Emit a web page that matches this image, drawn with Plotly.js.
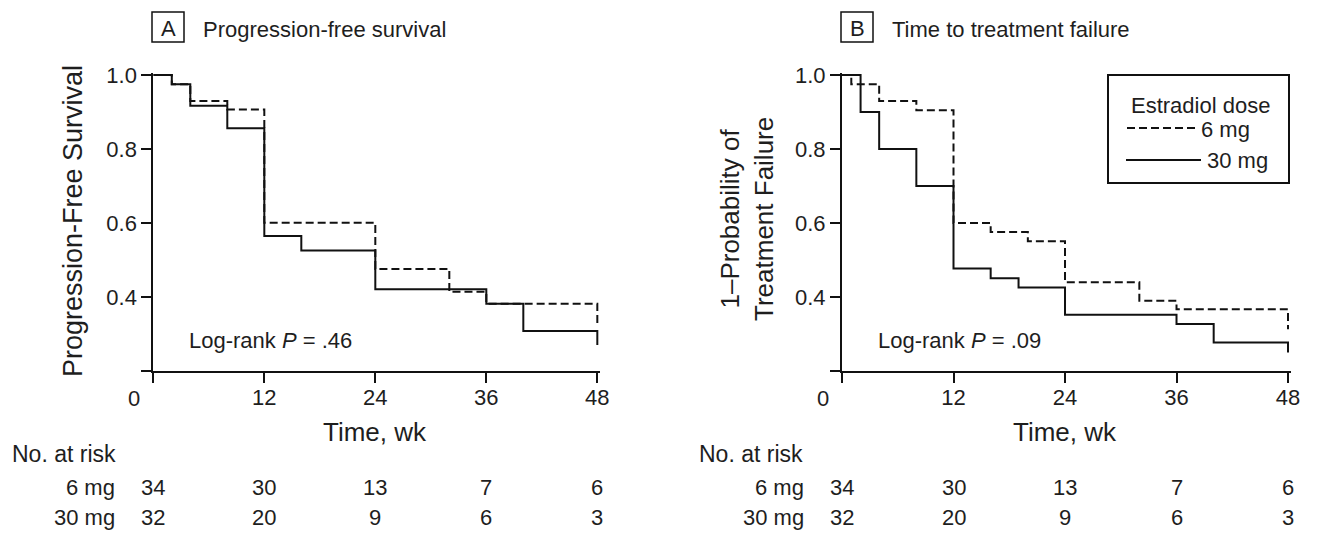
<!DOCTYPE html>
<html>
<head>
<meta charset="utf-8">
<script src="https://cdn.plot.ly/plotly-3.0.1.min.js"></script>
<style>html,body{margin:0;padding:0;background:#fff;}#chart{width:1319px;height:534px;}</style>
</head>
<body>
<div id="chart"></div>
<script>
// ---- Data ----
// Panel A: Progression-free survival
const pfsWeeks6 = [0, 2, 4, 8, 12, 24, 32, 36, 48];
const pfsSurv6  = [1.0, 0.975, 0.93, 0.907, 0.601, 0.476, 0.414, 0.382, 0.32];
const pfsWeeks30 = [0, 2, 4, 8, 12, 16, 24, 36, 40, 48];
const pfsSurv30  = [1.0, 0.975, 0.917, 0.856, 0.565, 0.526, 0.421, 0.382, 0.308, 0.27];
// Panel B: Time to treatment failure
const ttfWeeks6 = [0, 1, 4, 8, 12, 16, 20, 24, 32, 36, 48];
const ttfSurv6  = [1.0, 0.975, 0.93, 0.905, 0.60, 0.576, 0.551, 0.44, 0.39, 0.367, 0.313];
const ttfWeeks30 = [0, 2, 4, 8, 12, 16, 19, 24, 36, 40, 48];
const ttfSurv30  = [1.0, 0.90, 0.80, 0.70, 0.477, 0.451, 0.426, 0.352, 0.327, 0.277, 0.25];
// Number at risk
const riskWeeks = [0, 12, 24, 36, 48];
const risk6  = [34, 30, 13, 7, 6];
const risk30 = [32, 20, 9, 6, 3];
// Tick labels
const xTickVals = [0, 12, 24, 36, 48];
const xTickText = ['', '12', '24', '36', '48'];
const yTickVals = [0.2, 0.4, 0.6, 0.8, 1.0];
const yTickText = ['', '0.4', '0.6', '0.8', '1.0'];
const doseLabels = ['6 mg', '30 mg'];
const panelTitles = ['Progression-free survival', 'Time to treatment failure'];
const pValues = ['.46', '.09'];

// ---- Layout helpers ----
const W = 1319, H = 534;
const FONT = 'Liberation Sans, Arial, Helvetica, sans-serif';
const TXT = '#1e1e1e';
const px = v => v / W;
const py = v => 1 - v / H;

const lineSolid = {color: '#111', width: 2, shape: 'hv'};
const lineDash  = {color: '#111', width: 2, shape: 'hv', dash: '8px,4px'};

const traces = [
  {x: pfsWeeks6,  y: pfsSurv6,  xaxis: 'x',  yaxis: 'y',  mode: 'lines', line: lineDash,  name: doseLabels[0], hoverinfo: 'x+y'},
  {x: pfsWeeks30, y: pfsSurv30, xaxis: 'x',  yaxis: 'y',  mode: 'lines', line: lineSolid, name: doseLabels[1], hoverinfo: 'x+y'},
  {x: ttfWeeks6,  y: ttfSurv6,  xaxis: 'x2', yaxis: 'y2', mode: 'lines', line: lineDash,  name: doseLabels[0], hoverinfo: 'x+y'},
  {x: ttfWeeks30, y: ttfSurv30, xaxis: 'x2', yaxis: 'y2', mode: 'lines', line: lineSolid, name: doseLabels[1], hoverinfo: 'x+y'}
];

const tickFont = {family: FONT, size: 22, color: TXT};
function xAxis(domain, anchor) {
  return {domain: domain, anchor: anchor, range: [0, 48.3], tickvals: xTickVals, ticktext: xTickText,
    showline: true, linecolor: '#111', linewidth: 2, ticks: 'outside', ticklen: 10, tickwidth: 2, tickcolor: '#111',
    ticklabelstandoff: -4,
    showgrid: false, zeroline: false, tickfont: tickFont, fixedrange: true};
}
function yAxis(anchor) {
  return {domain: [py(371), py(73.15)], anchor: anchor, range: [0.2, 1.005], tickvals: yTickVals, ticktext: yTickText,
    showline: true, linecolor: '#111', linewidth: 2, ticks: 'outside', ticklen: 10, tickwidth: 2, tickcolor: '#111',
    showgrid: false, zeroline: false, tickfont: tickFont, fixedrange: true};
}

const annotations = [];
const shapes = [];
const panels = [
  {xr: 'x',  boxL: 152, noRiskL: 10,  rowR: 117, yTitleX: 73,  yTitleY: 221, ySize: 27, yTitle: 'Progression-Free Survival', pX: 187},
  {xr: 'x2', boxL: 841, noRiskL: 697, rowR: 806, yTitleX: 747, yTitleY: 219, ySize: 26, yTitle: '1–Probability of<br>Treatment Failure', pX: 876}
];
const letters = ['A', 'B'];
panels.forEach((p, i) => {
  // panel letter box + title
  shapes.push({type: 'rect', xref: 'paper', yref: 'paper', x0: px(p.boxL), x1: px(p.boxL + 32), y0: py(42), y1: py(12),
    line: {color: '#111', width: 1.5}});
  annotations.push({xref: 'paper', yref: 'paper', x: px(p.boxL + 16), y: py(28), text: letters[i], showarrow: false,
    xanchor: 'center', yanchor: 'middle', font: {family: FONT, size: 22, color: TXT}});
  annotations.push({xref: 'paper', yref: 'paper', x: px(p.boxL + 49), y: py(29), text: panelTitles[i], showarrow: false,
    xanchor: 'left', yanchor: 'middle', font: {family: FONT, size: 22, color: TXT}});
  // y axis title
  annotations.push({xref: 'paper', yref: 'paper', x: px(p.yTitleX), y: py(p.yTitleY), text: p.yTitle, textangle: -90, showarrow: false,
    xanchor: 'center', yanchor: 'middle', font: {family: FONT, size: p.ySize, color: TXT}});
  // x axis title
  annotations.push({xref: p.xr, yref: 'paper', x: 24, y: py(432), text: 'Time, wk', showarrow: false,
    xanchor: 'center', yanchor: 'middle', font: {family: FONT, size: 26, color: TXT}});
  // origin label "0"
  annotations.push({xref: p.xr, yref: 'paper', x: 0, xshift: -19, y: py(398), text: '0', showarrow: false,
    xanchor: 'center', yanchor: 'middle', font: tickFont});
  // log-rank p
  annotations.push({xref: 'paper', yref: 'paper', x: px(p.pX), y: py(340), text: 'Log-rank <i>P</i> = ' + pValues[i], showarrow: false,
    xanchor: 'left', yanchor: 'middle', font: {family: FONT, size: 22, color: TXT}});
  // number at risk table
  annotations.push({xref: 'paper', yref: 'paper', x: px(p.noRiskL), y: py(454), text: 'No. at risk', showarrow: false,
    xanchor: 'left', yanchor: 'middle', font: {family: FONT, size: 23, color: TXT}});
  [risk6, risk30].forEach((row, r) => {
    const yy = py(r === 0 ? 487 : 517);
    annotations.push({xref: 'paper', yref: 'paper', x: px(p.rowR), y: yy, text: doseLabels[r], showarrow: false,
      xanchor: 'right', yanchor: 'middle', font: {family: FONT, size: 22, color: TXT}});
    row.forEach((n, k) => {
      annotations.push({xref: p.xr, yref: 'paper', x: riskWeeks[k], y: yy, text: String(n), showarrow: false,
        xanchor: 'center', yanchor: 'middle', font: {family: FONT, size: 22, color: TXT}});
    });
  });
});

// legend (panel B)
shapes.push({type: 'rect', xref: 'paper', yref: 'paper', x0: px(1108), x1: px(1289), y0: py(183), y1: py(75),
  line: {color: '#111', width: 2}});
annotations.push({xref: 'paper', yref: 'paper', x: px(1200), y: py(105), text: 'Estradiol dose', showarrow: false,
  xanchor: 'center', yanchor: 'middle', font: {family: FONT, size: 22, color: TXT}});
shapes.push({type: 'line', xref: 'paper', yref: 'paper', x0: px(1127), x1: px(1197), y0: py(128), y1: py(128),
  line: {color: '#111', width: 2, dash: '8px,4px'}});
annotations.push({xref: 'paper', yref: 'paper', x: px(1199), y: py(129), text: doseLabels[0], showarrow: false,
  xanchor: 'left', yanchor: 'middle', font: {family: FONT, size: 22, color: TXT}});
shapes.push({type: 'line', xref: 'paper', yref: 'paper', x0: px(1126), x1: px(1201), y0: py(160), y1: py(160),
  line: {color: '#111', width: 2}});
annotations.push({xref: 'paper', yref: 'paper', x: px(1205), y: py(161), text: doseLabels[1], showarrow: false,
  xanchor: 'left', yanchor: 'middle', font: {family: FONT, size: 22, color: TXT}});

const layout = {
  width: W, height: H,
  margin: {l: 0, r: 0, t: 0, b: 0, pad: 0},
  paper_bgcolor: '#fff', plot_bgcolor: '#fff',
  showlegend: false,
  font: {family: FONT, size: 22, color: TXT},
  xaxis: xAxis([px(153.3), px(600.1)], 'y'),
  yaxis: yAxis('x'),
  xaxis2: xAxis([px(842), px(1290.8)], 'y2'),
  yaxis2: yAxis('x2'),
  annotations: annotations,
  shapes: shapes
};

Plotly.newPlot('chart', traces, layout, {displayModeBar: false, staticPlot: true});
</script>
</body>
</html>
